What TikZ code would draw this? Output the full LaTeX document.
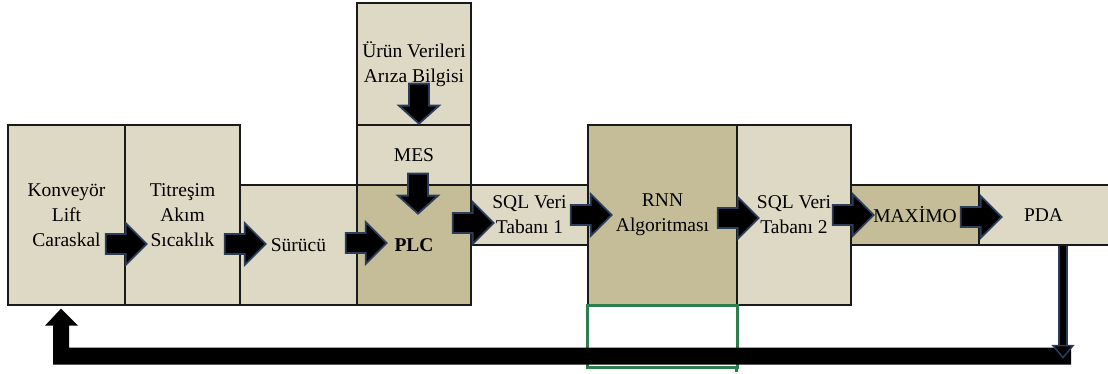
\documentclass[tikz,border=0pt]{standalone}
\usepackage{fontspec}
\setmainfont{Liberation Serif}
\usetikzlibrary{calc}
\definecolor{lightfill}{HTML}{DDD9C4}
\definecolor{darkfill}{HTML}{C4BD97}
\definecolor{edgecol}{HTML}{1A1A1A}
\definecolor{glow}{HTML}{2A3E5C}
\definecolor{greenedge}{HTML}{2E7D4E}
\tikzset{
  box/.style={draw=edgecol, line width=1.3pt, fill=lightfill, inner sep=0pt, align=center,
    font=\fontsize{19.5}{25}\selectfont, text=black},
  dbox/.style={box, fill=darkfill},
  arrowstyle/.style={fill=black, draw=glow, line width=1.8pt, line join=miter},
  rarr/.pic={\path[arrowstyle] (-20,-10) -- (0,-10) -- (0,-21) -- (21,0) -- (0,21) -- (0,10) -- (-20,10) -- cycle;},
  darr/.pic={\path[arrowstyle] (-10,-22) -- (-10,0) -- (-20,0) -- (0,18) -- (20,0) -- (10,0) -- (10,-22) -- cycle;}
}
\begin{document}
\begin{tikzpicture}[x=1pt,y=-1pt]
\useasboundingbox (0,0) rectangle (1108,374);
\fill[white] (0,0) rectangle (1108,374);
% boxes
\node[box, minimum width=117pt, minimum height=180pt] (konv) at (66.5,215) {Konveyör\\Lift\\Caraskal};
\node[box, minimum width=115pt, minimum height=180pt] (titr) at (182.5,215) {Titreşim\\Akım\\Sıcaklık};
\node[box, minimum width=117pt, minimum height=120pt] (surucu) at (298.5,245) {Sürücü};
\node[dbox, minimum width=114pt, minimum height=120pt, font=\fontsize{19.5}{25}\selectfont\bfseries] (plc) at (414,245) {PLC};
\node[box, minimum width=114pt, minimum height=60pt] (mes) at (414,155) {MES};
\node[box, minimum width=114pt, minimum height=122pt] (urun) at (414,64) {Ürün Verileri\\Arıza Bilgisi};
\node[box, minimum width=117pt, minimum height=60pt] (sql1) at (529.5,215) {SQL Veri\\Tabanı 1};
\node[dbox, minimum width=149pt, minimum height=180pt] (rnn) at (662.5,215) {RNN\\Algoritması};
\node[box, minimum width=114pt, minimum height=180pt] (sql2) at (794,215) {SQL Veri\\Tabanı 2};
\node[dbox, minimum width=128pt, minimum height=60pt] (maximo) at (915,215) {MAXİMO};
\node[box, minimum width=133pt, minimum height=60pt, text width=133pt, align=center] (pda) at (1045.5,215) {\hspace*{-4pt}PDA};
% block arrows between boxes
\pic at ($(konv.east)+(0,29)$) {rarr};
\pic at ($(titr.east)+(4,29)$) {rarr};
\pic at ($(surucu.east)+(8,-2)$) {rarr};
\pic at ($(plc.east)+(1,-22)$) {rarr};
\pic at ($(sql1.east)+(2,0)$) {rarr};
\pic at ($(rnn.east)+(0,3)$) {rarr};
\pic at ($(sql2.east)+(1,0)$) {rarr};
\pic at ($(maximo.east)+(1,2)$) {rarr};
\pic at ($(urun.south)+(5,-20)$) {darr};
\pic at ($(mes.south)+(4,10)$) {darr};
% green rectangle below RNN
\draw[greenedge, line width=2.5pt] (rnn.south west) rectangle ($(rnn.south east)+(0,62)$);
\draw[greenedge, line width=3pt] ($(rnn.south east)+(-1,60)$) -- ++(0,6);
% feedback path
\coordinate (fbtip) at ($(konv.south)+(-5.5,3)$);
\coordinate (fbend) at ($(pda.south)+(25.5,119)$);
\fill[black] (fbtip) -- ++(17,17) -- ++(-9,0) -- ++(0,22) -- ($(fbend)+(0,-17)$) -- (fbend) -- ($(fbtip|-fbend)+(-8,0)$) -- ++(0,-39) -- ++(-8,0) -- cycle;
\coordinate (pdaout) at ($(pda.south)+(17.5,0)$);
\draw[glow, line width=10pt] (pdaout) -- ++(0,100);
\draw[black, line width=5.5pt] (pdaout) -- ++(0,100);
\path[arrowstyle, line width=1.5pt] ($(pdaout)+(-10,100)$) -- ++(20,0) -- ++(-10,12) -- cycle;
\end{tikzpicture}
\end{document}
